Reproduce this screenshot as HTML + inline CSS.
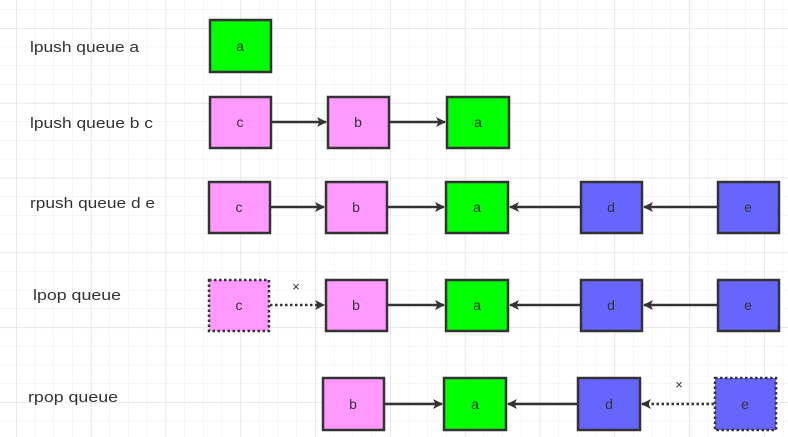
<!DOCTYPE html>
<html><head><meta charset="utf-8"><style>
html,body{margin:0;padding:0;background:#fff;}
svg{display:block;}
text{font-family:"Liberation Sans",sans-serif;fill:#333;}
</style></head><body>
<svg width="788" height="437" viewBox="0 0 788 437" xmlns="http://www.w3.org/2000/svg">
<defs>
<pattern id="g" x="16" y="28" width="18.7" height="18.7" patternUnits="userSpaceOnUse">
<path d="M0 0V18.7M0 0H18.7" stroke="#ececec" stroke-width="1" fill="none"/>
</pattern>
<pattern id="G" x="16" y="28" width="74.8" height="74.8" patternUnits="userSpaceOnUse">
<path d="M0 0V74.8M0 0H74.8" stroke="#e2e2e2" stroke-width="1.5" fill="none"/>
</pattern>
<marker id="ah" markerWidth="10" markerHeight="10" refX="9" refY="5" orient="auto" markerUnits="userSpaceOnUse">
<path d="M0 0L10 5L0 10L2.5 5Z" fill="#333"/>
</marker>
</defs>
<rect width="788" height="437" fill="url(#g)"/>
<rect width="788" height="437" fill="url(#G)"/>

<g font-size="15">
<text x="30" y="52" textLength="109" lengthAdjust="spacingAndGlyphs">lpush queue a</text>
<text x="30" y="128" textLength="123" lengthAdjust="spacingAndGlyphs">lpush queue b c</text>
<text x="30" y="208" textLength="125" lengthAdjust="spacingAndGlyphs">rpush queue d e</text>
<text x="33" y="300" textLength="88" lengthAdjust="spacingAndGlyphs">lpop queue</text>
<text x="28" y="402" textLength="90" lengthAdjust="spacingAndGlyphs">rpop queue</text>
</g>

<g stroke="#333" stroke-width="2.5">
<!-- row1 -->
<rect x="210" y="20" width="61" height="52" fill="#00ff00"/>
<!-- row2 -->
<rect x="210" y="97" width="61" height="51" fill="#ff99ff"/>
<rect x="328" y="97" width="61" height="51" fill="#ff99ff"/>
<rect x="447" y="97" width="62" height="51" fill="#00ff00"/>
<!-- row3 -->
<rect x="209" y="182" width="61" height="51" fill="#ff99ff"/>
<rect x="326" y="182" width="61" height="51" fill="#ff99ff"/>
<rect x="446" y="182" width="62" height="51" fill="#00ff00"/>
<rect x="581" y="182" width="61" height="51" fill="#6666ff"/>
<rect x="718" y="182" width="61" height="51" fill="#6666ff"/>
<!-- row4 -->
<rect x="209" y="280" width="60" height="51" fill="#ff99ff" stroke-dasharray="2.5 2.5"/>
<rect x="326" y="280" width="61" height="51" fill="#ff99ff"/>
<rect x="446" y="280" width="62" height="51" fill="#00ff00"/>
<rect x="581" y="280" width="61" height="51" fill="#6666ff"/>
<rect x="718" y="280" width="61" height="51" fill="#6666ff"/>
<!-- row5 -->
<rect x="323" y="378" width="61" height="52" fill="#ff99ff"/>
<rect x="444" y="378" width="62" height="52" fill="#00ff00"/>
<rect x="578" y="378" width="62" height="52" fill="#6666ff"/>
<rect x="715" y="378" width="61" height="52" fill="#6666ff" stroke-dasharray="2.5 2.5"/>
</g>

<g stroke="#333" stroke-width="2.5" fill="none">
<line x1="272" y1="122" x2="326" y2="122" marker-end="url(#ah)"/>
<line x1="390" y1="122" x2="445" y2="122" marker-end="url(#ah)"/>
<line x1="271" y1="207" x2="324" y2="207" marker-end="url(#ah)"/>
<line x1="388" y1="207" x2="444" y2="207" marker-end="url(#ah)"/>
<line x1="580" y1="207" x2="510" y2="207" marker-end="url(#ah)"/>
<line x1="717" y1="207" x2="644" y2="207" marker-end="url(#ah)"/>
<line x1="270" y1="305" x2="324" y2="305" stroke-dasharray="2.5 2.5" marker-end="url(#ah)"/>
<line x1="388" y1="305" x2="444" y2="305" marker-end="url(#ah)"/>
<line x1="580" y1="305" x2="510" y2="305" marker-end="url(#ah)"/>
<line x1="717" y1="305" x2="644" y2="305" marker-end="url(#ah)"/>
<line x1="385" y1="404" x2="442" y2="404" marker-end="url(#ah)"/>
<line x1="577" y1="404" x2="508" y2="404" marker-end="url(#ah)"/>
<line x1="714" y1="404" x2="642" y2="404" stroke-dasharray="2.5 2.5" marker-end="url(#ah)"/>
</g>

<g font-size="14" text-anchor="middle" fill="#444">
<text x="240" y="51">a</text>
<text x="240" y="127">c</text><text x="358" y="127">b</text><text x="478" y="127">a</text>
<text x="239" y="212">c</text><text x="356" y="212">b</text><text x="477" y="212">a</text><text x="611" y="212">d</text><text x="748" y="212">e</text>
<text x="239" y="310">c</text><text x="356" y="310">b</text><text x="477" y="310">a</text><text x="611" y="310">d</text><text x="748" y="310">e</text>
<text x="353" y="409">b</text><text x="475" y="409">a</text><text x="609" y="409">d</text><text x="745" y="409">e</text>
<text x="296" y="291" font-size="13">×</text>
<text x="679" y="389" font-size="13">×</text>
</g>
</svg>
</body></html>
